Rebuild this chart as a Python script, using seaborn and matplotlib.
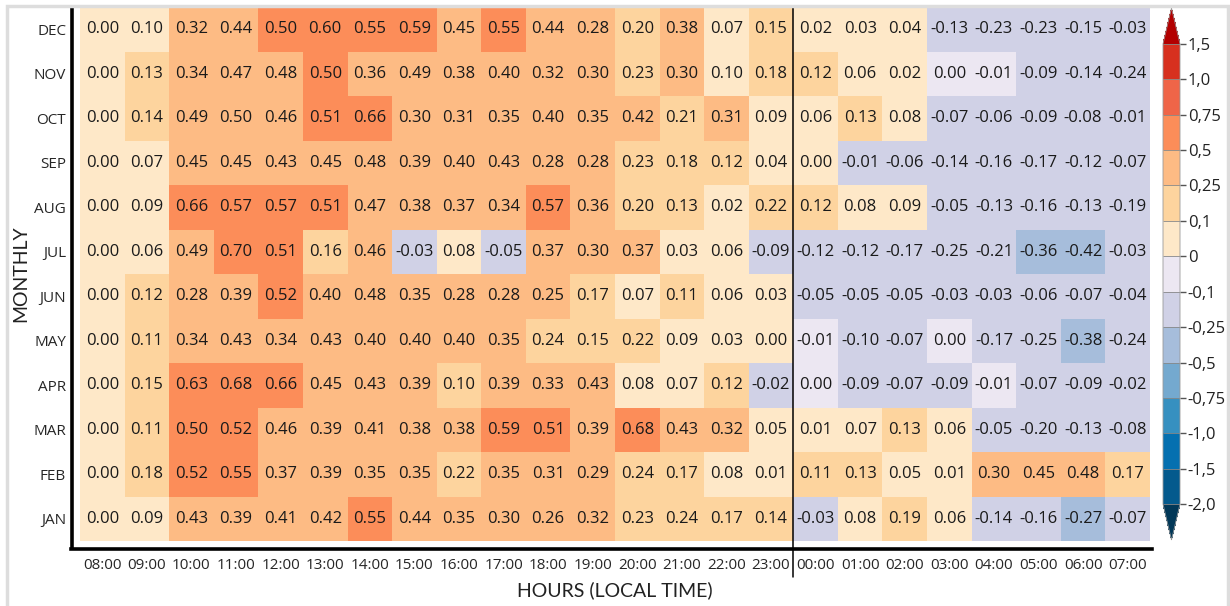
import numpy as np
import pandas as pd
import matplotlib
matplotlib.use("Agg")
import matplotlib.pyplot as plt
import seaborn as sns
from matplotlib.colors import ListedColormap, BoundaryNorm
from matplotlib.patches import Rectangle
import matplotlib.cm as cm

months = ["DEC", "NOV", "OCT", "SEP", "AUG", "JUL", "JUN", "MAY", "APR", "MAR", "FEB", "JAN"]
hours = ["08:00", "09:00", "10:00", "11:00", "12:00", "13:00", "14:00", "15:00",
         "16:00", "17:00", "18:00", "19:00", "20:00", "21:00", "22:00", "23:00",
         "00:00", "01:00", "02:00", "03:00", "04:00", "05:00", "06:00", "07:00"]

values = [
    [0.00, 0.10, 0.32, 0.44, 0.50, 0.60, 0.55, 0.59, 0.45, 0.55, 0.44, 0.28, 0.20, 0.38, 0.07, 0.15, 0.02, 0.03, 0.04, -0.13, -0.23, -0.23, -0.15, -0.03],
    [0.00, 0.13, 0.34, 0.47, 0.48, 0.50, 0.36, 0.49, 0.38, 0.40, 0.32, 0.30, 0.23, 0.30, 0.10, 0.18, 0.12, 0.06, 0.02, 0.00, -0.01, -0.09, -0.14, -0.24],
    [0.00, 0.14, 0.49, 0.50, 0.46, 0.51, 0.66, 0.30, 0.31, 0.35, 0.40, 0.35, 0.42, 0.21, 0.31, 0.09, 0.06, 0.13, 0.08, -0.07, -0.06, -0.09, -0.08, -0.01],
    [0.00, 0.07, 0.45, 0.45, 0.43, 0.45, 0.48, 0.39, 0.40, 0.43, 0.28, 0.28, 0.23, 0.18, 0.12, 0.04, 0.00, -0.01, -0.06, -0.14, -0.16, -0.17, -0.12, -0.07],
    [0.00, 0.09, 0.66, 0.57, 0.57, 0.51, 0.47, 0.38, 0.37, 0.34, 0.57, 0.36, 0.20, 0.13, 0.02, 0.22, 0.12, 0.08, 0.09, -0.05, -0.13, -0.16, -0.13, -0.19],
    [0.00, 0.06, 0.49, 0.70, 0.51, 0.16, 0.46, -0.03, 0.08, -0.05, 0.37, 0.30, 0.37, 0.03, 0.06, -0.09, -0.12, -0.12, -0.17, -0.25, -0.21, -0.36, -0.42, -0.03],
    [0.00, 0.12, 0.28, 0.39, 0.52, 0.40, 0.48, 0.35, 0.28, 0.28, 0.25, 0.17, 0.07, 0.11, 0.06, 0.03, -0.05, -0.05, -0.05, -0.03, -0.03, -0.06, -0.07, -0.04],
    [0.00, 0.11, 0.34, 0.43, 0.34, 0.43, 0.40, 0.40, 0.40, 0.35, 0.24, 0.15, 0.22, 0.09, 0.03, 0.00, -0.01, -0.10, -0.07, 0.00, -0.17, -0.25, -0.38, -0.24],
    [0.00, 0.15, 0.63, 0.68, 0.66, 0.45, 0.43, 0.39, 0.10, 0.39, 0.33, 0.43, 0.08, 0.07, 0.12, -0.02, 0.00, -0.09, -0.07, -0.09, -0.01, -0.07, -0.09, -0.02],
    [0.00, 0.11, 0.50, 0.52, 0.46, 0.39, 0.41, 0.38, 0.38, 0.59, 0.51, 0.39, 0.68, 0.43, 0.32, 0.05, 0.01, 0.07, 0.13, 0.06, -0.05, -0.20, -0.13, -0.08],
    [0.00, 0.18, 0.52, 0.55, 0.37, 0.39, 0.35, 0.35, 0.22, 0.35, 0.31, 0.29, 0.24, 0.17, 0.08, 0.01, 0.11, 0.13, 0.05, 0.01, 0.30, 0.45, 0.48, 0.17],
    [0.00, 0.09, 0.43, 0.39, 0.41, 0.42, 0.55, 0.44, 0.35, 0.30, 0.26, 0.32, 0.23, 0.24, 0.17, 0.14, -0.03, 0.08, 0.19, 0.06, -0.14, -0.16, -0.27, -0.07],
]

# colour class of each cell (0 = 0..0.1 bin, 1 = 0.1..0.25, 2 = 0.25..0.5,
# 3 = 0.5..0.75, -1 = -0.1..0, -2 = -0.25..-0.1, -3 = -0.5..-0.25)
color_class = [
    [0, 0, 2, 2, 3, 3, 3, 3, 2, 3, 2, 2, 1, 2, 0, 1, 0, 0, 0, -2, -2, -2, -2, -2],
    [0, 1, 2, 2, 2, 3, 2, 2, 2, 2, 2, 2, 1, 2, 0, 1, 1, 0, 0, -1, -1, -2, -2, -2],
    [0, 1, 2, 2, 2, 3, 3, 2, 2, 2, 2, 2, 2, 1, 2, 0, 0, 1, 0, -2, -2, -2, -2, -2],
    [0, 0, 2, 2, 2, 2, 2, 2, 2, 2, 2, 2, 1, 1, 1, 0, 0, -2, -2, -2, -2, -2, -2, -2],
    [0, 0, 3, 3, 3, 3, 2, 2, 2, 2, 3, 2, 1, 1, 0, 1, 1, 0, 0, -2, -2, -2, -2, -2],
    [0, 0, 2, 3, 3, 1, 2, -2, 0, -2, 2, 2, 2, 0, 0, -2, -2, -2, -2, -2, -2, -3, -3, -2],
    [0, 1, 2, 2, 3, 2, 2, 2, 2, 2, 2, 1, 0, 1, 0, 0, -2, -2, -2, -2, -2, -2, -2, -2],
    [0, 1, 2, 2, 2, 2, 2, 2, 2, 2, 1, 1, 1, 0, 0, 0, -1, -2, -2, -1, -2, -2, -3, -2],
    [0, 1, 3, 3, 3, 2, 2, 2, 1, 2, 2, 2, 0, 0, 1, -2, -1, -2, -2, -2, -1, -2, -2, -2],
    [0, 1, 3, 3, 2, 2, 2, 2, 2, 3, 3, 2, 3, 2, 2, 0, 0, 0, 1, 0, -2, -2, -2, -2],
    [0, 1, 3, 3, 2, 2, 2, 2, 1, 2, 2, 2, 1, 1, 0, 0, 1, 1, 0, 0, 2, 2, 2, 1],
    [0, 0, 2, 2, 2, 2, 3, 2, 2, 2, 2, 2, 1, 1, 1, 1, -2, 0, 1, 0, -2, -2, -3, -2],
]

bounds = [-2.0, -1.5, -1.0, -0.75, -0.5, -0.25, -0.1, 0.0, 0.1, 0.25, 0.5, 0.75, 1.0, 1.5]
bound_labels = ["-2,0", "-1,5", "-1,0", "-0,75", "-0,5", "-0,25", "-0,1", "0",
                "0,1", "0,25", "0,5", "0,75", "1,0", "1,5"]
bin_colors = ["#045A8D", "#0570B0", "#3690C0", "#74A9CF", "#A6BDDB", "#D0D1E6", "#ECE7F2",
              "#FEE8C8", "#FDD49E", "#FDBB84", "#FC8D59", "#EF6548", "#D7301F"]
under_color = "#023858"
over_color = "#B30000"

vals_df = pd.DataFrame(values, index=months, columns=hours)
cls_df = pd.DataFrame(color_class, index=months, columns=hours)

sns.set_theme(style="white")
plt.rcParams["font.family"] = ["Open Sans", "DejaVu Sans"]

fig = plt.figure(figsize=(12.3, 6.06), dpi=100)
ax = fig.add_axes([80 / 1230, 65 / 606, 1070 / 1230, 534 / 606])

cell_cmap = ListedColormap(bin_colors)
sns.heatmap(cls_df, ax=ax, cmap=cell_cmap, vmin=-7.5, vmax=5.5, cbar=False,
            annot=vals_df, fmt=".2f",
            annot_kws={"fontsize": 12, "color": "#1a1a1a", "family": ["Open Sans", "DejaVu Sans"]})

ax.set_xticklabels(hours, rotation=0, fontsize=11.2, family=["Lato", "DejaVu Sans"], color="#222222")
ax.set_yticklabels(months, rotation=0, fontsize=11.8, family=["Lato", "DejaVu Sans"], color="#222222")
ax.tick_params(axis="both", length=0)
ax.tick_params(axis="x", pad=6)
ax.tick_params(axis="y", pad=4)

for side in ["top", "right"]:
    ax.spines[side].set_visible(False)
for side in ["left", "bottom"]:
    ax.spines[side].set_visible(True)
    ax.spines[side].set_linewidth(2.6)
    ax.spines[side].set_color("black")
    ax.spines[side].set_position(("outward", 6))
ax.spines["bottom"].set_bounds(-0.2, 24.05)
ax.spines["left"].set_bounds(0, 12.15)

ax.axvline(16, ymin=-0.068, ymax=1.0, color="black", lw=1.1, clip_on=False)

ax.set_xlabel("HOURS (LOCAL TIME)", fontsize=14, family=["Lato", "DejaVu Sans"], color="#222222")
ax.set_ylabel("MONTHLY", fontsize=14, family=["Lato", "DejaVu Sans"], color="#222222")
ax.xaxis.set_label_coords(0.5, -0.075)
ax.yaxis.set_label_coords(-0.047, 0.5)

# colorbar
cax = fig.add_axes([1163 / 1230, 66 / 606, 17 / 1230, 532 / 606])
cb_cmap = ListedColormap(bin_colors)
cb_cmap.set_under(under_color)
cb_cmap.set_over(over_color)
norm = BoundaryNorm(bounds, cb_cmap.N, extend="neither")
sm = cm.ScalarMappable(norm=norm, cmap=cb_cmap)
cb = fig.colorbar(sm, cax=cax, extend="both", spacing="uniform", ticks=bounds,
                  extendfrac=0.078, drawedges=True)
cb.set_ticklabels(bound_labels)
cb.ax.tick_params(labelsize=12, length=4, width=1, color="#555555", pad=1.5, labelcolor="#222222")
cb.outline.set_edgecolor("#999999")
cb.outline.set_linewidth(0.6)
cb.dividers.set_color("#888888")
cb.dividers.set_linewidth(0.6)

# light figure frame
fig.patches.append(Rectangle((7 / 1230, -0.02), 1221 / 1230, 1.02 - 6 / 606,
                             transform=fig.transFigure, fill=False,
                             edgecolor="#DDDDDD", linewidth=2.5))

fig.savefig("out.png", dpi=100)
